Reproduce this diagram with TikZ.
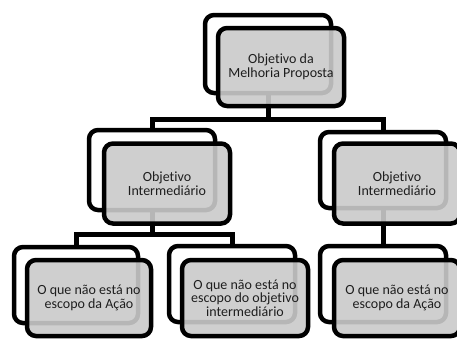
\documentclass[tikz,border=0pt]{standalone}
\usepackage{fontspec}
\setmainfont{Carlito}[Ligatures=NoCommon]
\definecolor{boxgray}{RGB}{202,202,202}
\definecolor{ink}{RGB}{30,30,30}
\begin{document}
\begin{tikzpicture}[x=1pt,y=-1pt,
  backbox/.style={draw=black, line width=4.5pt, rounded corners=9pt,
    minimum width=126pt, minimum height=78pt, inner sep=0pt},
  frontbox/.style={backbox, fill=boxgray, fill opacity=0.9, text opacity=1,
    text=ink, align=center,
    font=\fontsize{14}{13.5}\selectfont},
  wire/.style={line width=5pt}]
\useasboundingbox (0,0) rectangle (457,338);
\clip (0,0) rectangle (457,338);

% back layer of each element
\node[backbox] (b0) at (268,54) {};
\node[backbox, minimum height=80pt] (b1) at (152,170) {};
\node[backbox, minimum height=76pt] (b2) at (383,170) {};
\node[backbox, minimum width=124pt, minimum height=76pt] (b3) at (76,285) {};
\node[backbox, minimum height=76pt] (b4) at (232,284) {};
\node[backbox, minimum height=76pt] (b5) at (383,284) {};

% connectors (drawn beneath the translucent front boxes)
\coordinate (bus1) at (268,119);
\coordinate (bus2) at (152,234);
\draw[wire] (b0.south) -- (bus1);
\draw[wire] (bus1) -| (b1.north);
\draw[wire] (bus1) -| (b2.north);
\draw[wire] (b1.south) -- (bus2);
\draw[wire] (bus2) -| (b3.north);
\draw[wire] (bus2) -| (b4.north);
\draw[wire] (b2.south) -- (b5.north);

% front layer with the texts
\node[frontbox] (f0) at (281,67) {Objetivo da\\Melhoria Proposta};
\node[frontbox, minimum height=80pt] (f1) at (167,183.5) {Objetivo\\Intermediário};
\node[frontbox, minimum height=80pt] (f2) at (397,183.5) {Objetivo\\Intermediário};
\node[frontbox, minimum width=124pt, minimum height=76pt] (f3) at (89,298) {O que não está no\\escopo da Ação};
\node[frontbox, minimum height=76pt] (f4) at (245,298) {O que não está no\\escopo do objetivo\\intermediário};
\node[frontbox, minimum height=76pt] (f5) at (397,298) {O que não está no\\escopo da Ação};
\end{tikzpicture}
\end{document}
